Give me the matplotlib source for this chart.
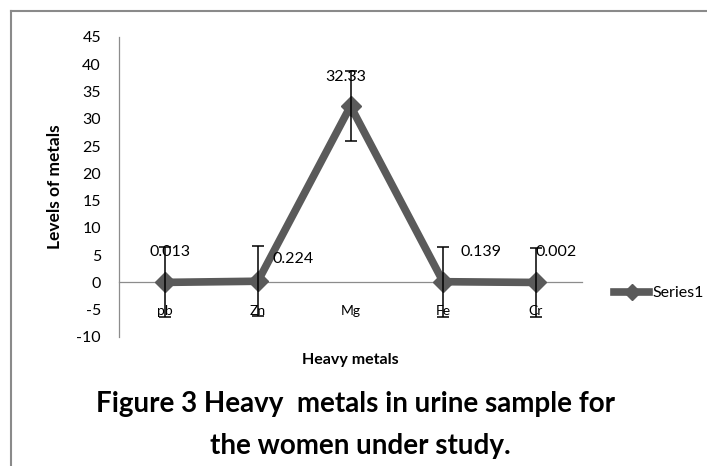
import matplotlib
matplotlib.use("Agg")
import matplotlib.pyplot as plt
from matplotlib.lines import Line2D

categories = ["pb", "Zn", "Mg", "Fe", "Cr"]
values = [0.013, 0.224, 32.33, 0.139, 0.002]
errors = [6.4, 6.4, 6.4, 6.4, 6.4]
value_labels = ["0.013", "0.224", "32.33", "0.139", "0.002"]
yticks = [-10, -5, 0, 5, 10, 15, 20, 25, 30, 35, 40, 45]

plt.rcParams['font.family'] = ['Lato', 'DejaVu Sans']

fig = plt.figure(figsize=(7.07, 4.66), dpi=100)
ax = fig.add_axes([119/707, 1-337/466, (582-119)/707, (337-37)/466])

col = '#5a5a5a'
x = list(range(len(categories)))
ax.plot(x, values, color=col, lw=5.5, marker='D', ms=10, mfc=col, mec=col, zorder=3,
        solid_capstyle='round')
ax.errorbar(x, values, yerr=errors, fmt='none', ecolor='black', elinewidth=1.1,
            capsize=4, capthick=1.1, zorder=4)

# data labels (pixel offsets relative to each point)
offs = [(5, 30), (35, 22), (-5, 29), (38, 30), (20, 30)]
for xi, v, lab, (dx, dy) in zip(x, values, value_labels, offs):
    ax.annotate(lab, (xi, v), xytext=(dx, dy), textcoords='offset pixels',
                ha='center', va='center', fontsize=11.5, color='black', zorder=5)

ax.set_xlim(-0.5, 4.5)
ax.set_ylim(-10, 45)
ax.set_yticks(yticks)
ax.set_yticklabels([str(t) for t in yticks], fontsize=11.5)
ax.set_xticks(x)
ax.set_xticklabels(categories, fontsize=11.5)
ax.tick_params(axis='x', length=0, pad=16)
ax.tick_params(axis='y', length=0, pad=13)

for s in ['top', 'right']:
    ax.spines[s].set_visible(False)
ax.spines['bottom'].set_position(('data', 0))
ax.spines['bottom'].set_color('#8c8c8c')
ax.spines['left'].set_color('#8c8c8c')
ax.spines['bottom'].set_linewidth(0.9)
ax.spines['left'].set_linewidth(0.9)

fig.text(350/707, 1-360/466, "Heavy metals", ha='center', va='center',
         fontsize=11.5, fontweight='bold')
fig.text(55/707, 1-187/466, "Levels of metals", ha='center', va='center',
         rotation=90, fontsize=12.5, fontweight='bold')

handle = Line2D([], [], color=col, lw=5.5, marker='D', ms=8, mfc=col, mec=col)
fig.legend([handle], ["Series1"], loc='center left',
           bbox_to_anchor=(614/707, 1-293/466), frameon=False, fontsize=11.5,
           handlelength=2.2, handletextpad=0.2, borderpad=0, borderaxespad=0)

fig.text(355/707, 1-404/466, "Figure 3 Heavy  metals in urine sample for",
         ha='center', va='center', fontsize=20, fontweight='bold')
fig.text(360/707, 1-446/466, "the women under study.",
         ha='center', va='center', fontsize=20, fontweight='bold')

# outer frame (top and left edges visible)
fig.add_artist(Line2D([11/707, 11/707], [0, 1-11/466], transform=fig.transFigure,
                      color='#8a8a8a', lw=1.5))
fig.add_artist(Line2D([11/707, 1], [1-11/466, 1-11/466], transform=fig.transFigure,
                      color='#8a8a8a', lw=1.5))

fig.savefig("out.png", dpi=100)
